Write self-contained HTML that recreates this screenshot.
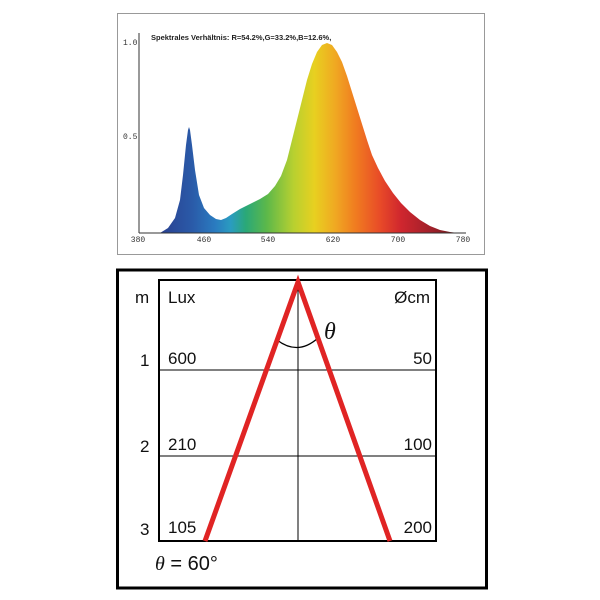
<!DOCTYPE html>
<html><head><meta charset="utf-8"><style>
body{margin:0;background:#fff;width:600px;height:600px;overflow:hidden}
svg{display:block}
</style></head><body>
<svg width="600" height="600" viewBox="0 0 600 600" xmlns="http://www.w3.org/2000/svg">
<defs>
<linearGradient id="sp" gradientUnits="userSpaceOnUse" x1="159" y1="0" x2="458" y2="0">
<stop offset="0" stop-color="#2a3f8f"/>
<stop offset="0.11" stop-color="#2a5aa8"/>
<stop offset="0.19" stop-color="#2a7cc0"/>
<stop offset="0.24" stop-color="#2a9cc0"/>
<stop offset="0.29" stop-color="#2aa878"/>
<stop offset="0.36" stop-color="#5cb84a"/>
<stop offset="0.45" stop-color="#b8d030"/>
<stop offset="0.52" stop-color="#e8d020"/>
<stop offset="0.59" stop-color="#f0a822"/>
<stop offset="0.66" stop-color="#f07a20"/>
<stop offset="0.74" stop-color="#e84a28"/>
<stop offset="0.81" stop-color="#cf262e"/>
<stop offset="0.91" stop-color="#a0202a"/>
<stop offset="1" stop-color="#6a1a1a"/>
</linearGradient>
</defs>
<rect x="117.5" y="13.5" width="367" height="241" fill="#fff" stroke="#999" stroke-width="1"/>
<path d="M160,233 L168,228 L175,218 L180,200 L183,175 L186,145 L188,130 L189,127 L190,130 L192,145 L195,170 L199,195 L204,208 L210,215 L216,219 L221,220 L226,218 L232,214 L240,209 L250,204 L260,199 L268,194 L275,186 L281,176 L287,160 L292,140 L297,120 L302,100 L307,80 L312,64 L317,52 L322,45 L327,43 L332,45 L337,52 L342,62 L347,76 L352,92 L357,108 L362,124 L367,140 L372,155 L378,168 L385,181 L393,193 L401,203 L410,212 L420,220 L430,226 L440,230 L450,232 L458,233 Z" fill="url(#sp)"/>
<line x1="139" y1="233" x2="466" y2="233" stroke="#333" stroke-width="1"/>
<line x1="139" y1="233" x2="139" y2="33" stroke="#333" stroke-width="1"/>
<g font-family="Liberation Mono, monospace" font-size="8" fill="#333">
<text x="123" y="45">1.0</text>
<text x="123" y="139">0.5</text>
<text x="138" y="242" text-anchor="middle">380</text>
<text x="204" y="242" text-anchor="middle">460</text>
<text x="268" y="242" text-anchor="middle">540</text>
<text x="333" y="242" text-anchor="middle">620</text>
<text x="398" y="242" text-anchor="middle">700</text>
<text x="463" y="242" text-anchor="middle">780</text>
</g>
<text x="151" y="40" font-family="Liberation Sans, sans-serif" font-size="7.5" font-weight="bold" fill="#222">Spektrales Verhältnis:  R=54.2%,G=33.2%,B=12.6%,</text>

<rect x="117.5" y="270" width="369" height="318" fill="#fff" stroke="#000" stroke-width="3"/>
<rect x="159" y="280" width="277" height="261" fill="none" stroke="#000" stroke-width="2"/>
<line x1="298" y1="280" x2="298" y2="541" stroke="#000" stroke-width="1"/>
<line x1="159" y1="370" x2="436" y2="370" stroke="#000" stroke-width="1"/>
<line x1="159" y1="456" x2="436" y2="456" stroke="#000" stroke-width="1"/>
<path d="M277,340 Q298,356 318,338" fill="none" stroke="#000" stroke-width="1.2"/>
<polyline points="205,541 298,282 390,541" fill="none" stroke="#e02424" stroke-width="5" stroke-linejoin="miter"/>
<g font-family="Liberation Sans, sans-serif" font-size="17" fill="#111">
<text x="135" y="303">m</text>
<text x="168" y="303">Lux</text>
<text x="430" y="303" text-anchor="end">Øcm</text>
<text x="140" y="366">1</text>
<text x="168" y="364">600</text>
<text x="432" y="364" text-anchor="end">50</text>
<text x="140" y="452">2</text>
<text x="168" y="450">210</text>
<text x="432" y="450" text-anchor="end">100</text>
<text x="140" y="535">3</text>
<text x="168" y="533">105</text>
<text x="432" y="533" text-anchor="end">200</text>
<text x="155" y="570" font-size="20"><tspan font-style="italic" font-family="Liberation Serif, serif">θ</tspan> = 60°</text>
</g>
<text x="324" y="339" font-family="Liberation Serif, serif" font-style="italic" font-size="24" fill="#111">θ</text>
</svg>
</body></html>
